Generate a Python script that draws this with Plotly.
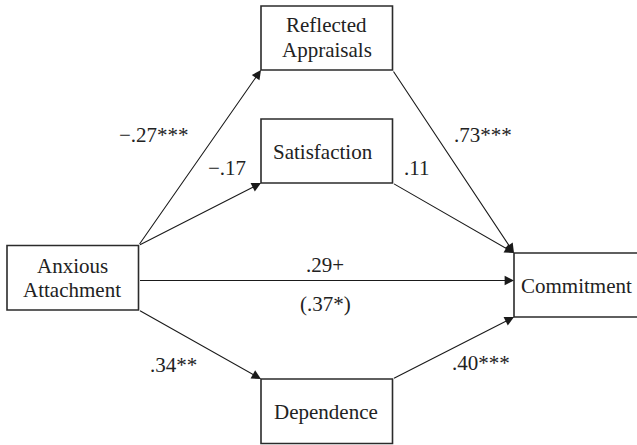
import plotly.graph_objects as go

# ---- data ----
nodes = ["Anxious<br>Attachment", "Reflected<br>Appraisals", "Satisfaction", "Dependence", "Commitment"]
paths = [("Anxious<br>Attachment", "Reflected<br>Appraisals"),
         ("Anxious<br>Attachment", "Satisfaction"),
         ("Anxious<br>Attachment", "Commitment"),
         ("Anxious<br>Attachment", "Dependence"),
         ("Reflected<br>Appraisals", "Commitment"),
         ("Satisfaction", "Commitment"),
         ("Dependence", "Commitment")]
coef_labels = ["\u2212.27***", "\u2212.17", ".29+", ".34**", ".73***", ".11", ".40***"]
extra_label = "(.37*)"

# ---- layout (pixel coords, y down) ----
W, H = 637, 445
boxes = {
    "Anxious<br>Attachment": (7, 245.5, 138.5, 310),
    "Reflected<br>Appraisals": (261, 6, 392.5, 70),
    "Satisfaction": (261, 119, 392.5, 183),
    "Dependence": (261, 379, 392.5, 443.5),
    "Commitment": (514, 253, 660, 317),
}
text_pos = {
    "Anxious<br>Attachment": (72, 278),
    "Reflected<br>Appraisals": (326.5, 37.5),
    "Satisfaction": (322.5, 152),
    "Dependence": (325.5, 412),
    "Commitment": (576, 286),
}
LINE_GAP = 24.5
arrow_pts = [
    ((138.5, 245.5), (261, 70)),
    ((138.5, 245.5), (261, 183)),
    ((138.5, 280.5), (514, 280.5)),
    ((138.5, 310), (261, 379)),
    ((392.5, 70), (514, 253)),
    ((392.5, 183), (514, 253)),
    ((392.5, 379), (514, 317)),
]
label_pos = [(154, 135), (227, 168), (325, 265), (173, 365), (483, 135), (416, 168), (481, 363)]
extra_pos = (325, 304)

FONT = dict(family="'Liberation Serif', 'Times New Roman', Tinos, 'DejaVu Serif', serif",
            size=21, color="#222222")
LINE = "#2b2b2b"

fig = go.Figure()
fig.add_trace(go.Scatter(x=[0, W], y=[0, H], mode="markers", marker=dict(opacity=0), hoverinfo="skip", showlegend=False))

for name in nodes:
    x0, y0, x1, y1 = boxes[name]
    fig.add_shape(type="rect", x0=x0, y0=y0, x1=x1, y1=y1, xref="x", yref="y",
                  line=dict(color=LINE, width=1.6), fillcolor="white", layer="above")
    tx, ty = text_pos[name]
    lines = name.split("<br>")
    n = len(lines)
    for i, ln in enumerate(lines):
        yy = ty + (i - (n - 1) / 2) * LINE_GAP
        fig.add_annotation(x=tx, y=yy, text=ln, showarrow=False, font=FONT,
                           xanchor="center", yanchor="middle")

for (tail, head) in arrow_pts:
    fig.add_annotation(x=head[0], y=head[1], ax=tail[0], ay=tail[1], xref="x", yref="y",
                       axref="x", ayref="y", text="", showarrow=True, arrowhead=2,
                       arrowsize=1.7, arrowwidth=1.1, arrowcolor="#1a1a1a", standoff=0)

for lab, (lx, ly) in zip(coef_labels, label_pos):
    fig.add_annotation(x=lx, y=ly, text=lab, showarrow=False, font=FONT,
                       xanchor="center", yanchor="middle")
fig.add_annotation(x=extra_pos[0], y=extra_pos[1], text=extra_label, showarrow=False, font=FONT,
                   xanchor="center", yanchor="middle")

fig.update_xaxes(range=[0, W], visible=False, fixedrange=True)
fig.update_yaxes(range=[H, 0], visible=False, fixedrange=True)
fig.update_layout(width=W, height=H, margin=dict(l=0, r=0, t=0, b=0),
                  plot_bgcolor="white", paper_bgcolor="white", showlegend=False,
                  font=FONT)

fig.write_html("out.html", config={"displayModeBar": False},
               post_script="document.body.style.margin='0';document.body.style.padding='0';")
